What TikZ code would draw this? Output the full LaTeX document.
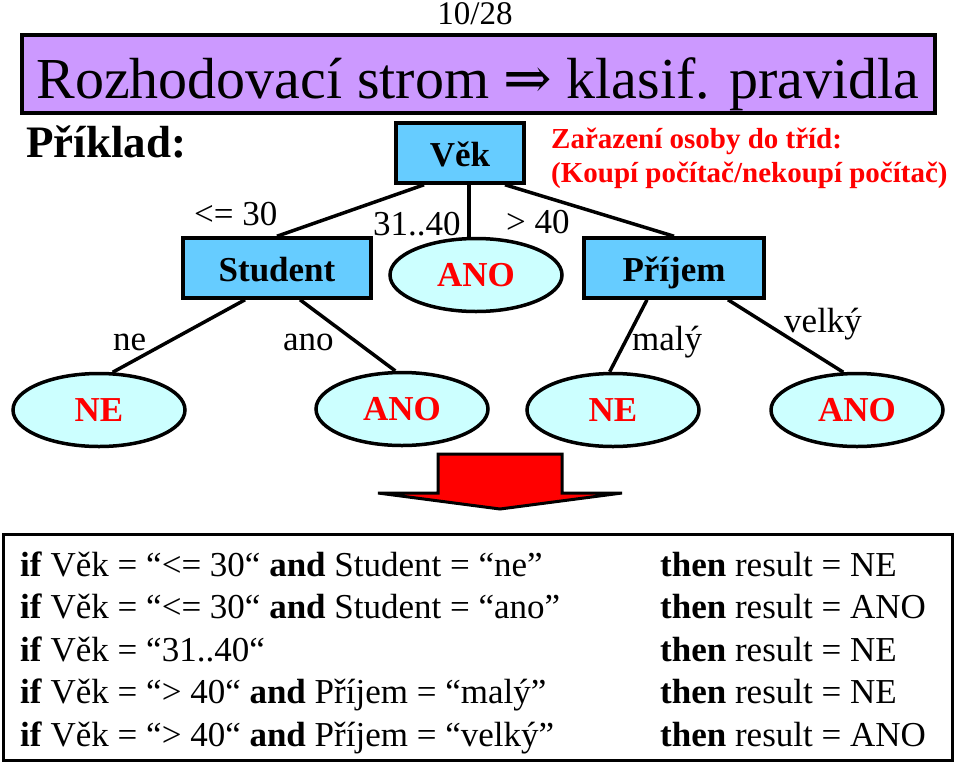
\documentclass[tikz,border=0pt]{standalone}
\usepackage{fontspec}
\setmainfont{Liberation Serif}
\newfontfamily\arrowfont{DejaVu Serif}
\usetikzlibrary{shapes.geometric}

\definecolor{titleviolet}{HTML}{CC99FF}
\definecolor{boxblue}{HTML}{66CCFF}
\definecolor{leafcyan}{HTML}{CCFFFF}

\tikzset{
  attrbox/.style={draw, line width=3.5pt, fill=boxblue, minimum height=60pt, inner sep=0pt, text height=26pt, text depth=0pt, font=\fontsize{35}{42}\selectfont\bfseries},
  leaf/.style={ellipse, draw, line width=3.5pt, fill=leafcyan, minimum width=172pt, minimum height=73pt, inner sep=0pt, text=red, font=\fontsize{35}{42}\selectfont\bfseries},
  branch/.style={line width=3.5pt},
  branchlabel/.style={anchor=base west, inner sep=0pt, font=\fontsize{35}{42}\selectfont},
  ruletext/.style={anchor=base west, inner sep=0pt, font=\fontsize{35}{42}\selectfont},
}

\begin{document}
\begin{tikzpicture}[x=1pt, y=-1pt]
    \useasboundingbox (0,0) rectangle (960,763);

    % Slide number and title
    \node[anchor=base, inner sep=0pt, font=\fontsize{33}{40}\selectfont] (slidenum) at (475,24) {10/28};
    \node[draw, line width=4pt, fill=titleviolet, minimum width=913pt, minimum height=78pt, inner sep=0pt] (titlebar) at (478.5,74) {};
    \node[anchor=base, inner sep=0pt, font=\fontsize{58}{64}\selectfont] (title) at (478,98) {Rozhodovací strom {\arrowfont ⇒} klasif. pravidla};
    \node[anchor=base west, inner sep=0pt, font=\fontsize{45}{50}\selectfont\bfseries] (priklad) at (26,157) {Příklad:};
    \node[anchor=base west, inner sep=0pt, text=red, font=\fontsize{29}{35}\selectfont\bfseries] (zadani1) at (551,148) {Zařazení osoby do tříd:};
    \node[anchor=base west, inner sep=0pt, text=red, font=\fontsize{29}{35}\selectfont\bfseries] (zadani2) at (551,182) {(Koupí počítač/nekoupí počítač)};

    % Draw tree
    \node[attrbox, minimum width=128pt] (vek) at (460,153) {Věk};
    \node[attrbox, minimum width=188pt] (student) at (277,268) {Student};
    \node[attrbox, minimum width=180pt] (prijem) at (674,268) {Příjem};
    \node[leaf] (ano1) at (476,275) {ANO};
    \node[leaf] (ne1) at (99,410) {NE};
    \node[leaf] (ano2) at (402,409) {ANO};
    \node[leaf] (ne2) at (613,410) {NE};
    \node[leaf] (ano3) at (857,410) {ANO};

    \draw[branch] ([xshift=-36pt]vek.south) -- (student.north);
    \draw[branch] ([xshift=9pt]vek.south) -- ([xshift=-7pt]ano1.north);
    \draw[branch] ([xshift=45pt]vek.south) -- (prijem.north);
    \draw[branch] ([xshift=-32pt]student.south) -- (ne1.70);
    \draw[branch] ([xshift=23pt]student.south) -- (ano2.100);
    \draw[branch] ([xshift=-27pt]prijem.south) -- (ne2.95);
    \draw[branch] ([xshift=54pt]prijem.south) -- (ano3.110);

    \node[branchlabel] (lbl30) at (194,225) {<= 30};
    \node[branchlabel] (lbl3140) at (373,235) {31..40};
    \node[branchlabel] (lbl40) at (506,233) {> 40};
    \node[branchlabel] (lblne) at (113,350) {ne};
    \node[branchlabel] (lblano) at (283,350) {ano};
    \node[branchlabel] (lblmaly) at (632,350) {malý};
    \node[branchlabel] (lblvelky) at (784,332) {velký};

    % Arrow down to the rules
    \draw[line width=3pt, fill=red] (438,454) -- (562,454) -- (562,493) -- (622,493) -- (500,509) -- (378,493) -- (438,493) -- cycle;

    % Rules
    \node[draw, line width=3pt, minimum width=949pt, minimum height=226pt, inner sep=0pt] (rulebox) at (477.5,647) {};
    \node[ruletext] (rule1) at (20,576) {\textbf{if} Věk = “<= 30“ \textbf{and} Student = “ne”};
    \node[ruletext] (rule2) at (20,618.5) {\textbf{if} Věk = “<= 30“ \textbf{and} Student = “ano”};
    \node[ruletext] (rule3) at (20,661) {\textbf{if} Věk = “31..40“};
    \node[ruletext] (rule4) at (20,703.5) {\textbf{if} Věk = “> 40“ \textbf{and} Příjem = “malý”};
    \node[ruletext] (rule5) at (20,746) {\textbf{if} Věk = “> 40“ \textbf{and} Příjem = “velký”};
    \node[ruletext] (then1) at (660,576) {\textbf{then} result = NE};
    \node[ruletext] (then2) at (660,618.5) {\textbf{then} result = ANO};
    \node[ruletext] (then3) at (660,661) {\textbf{then} result = NE};
    \node[ruletext] (then4) at (660,703.5) {\textbf{then} result = NE};
    \node[ruletext] (then5) at (660,746) {\textbf{then} result = ANO};
\end{tikzpicture}
\end{document}
